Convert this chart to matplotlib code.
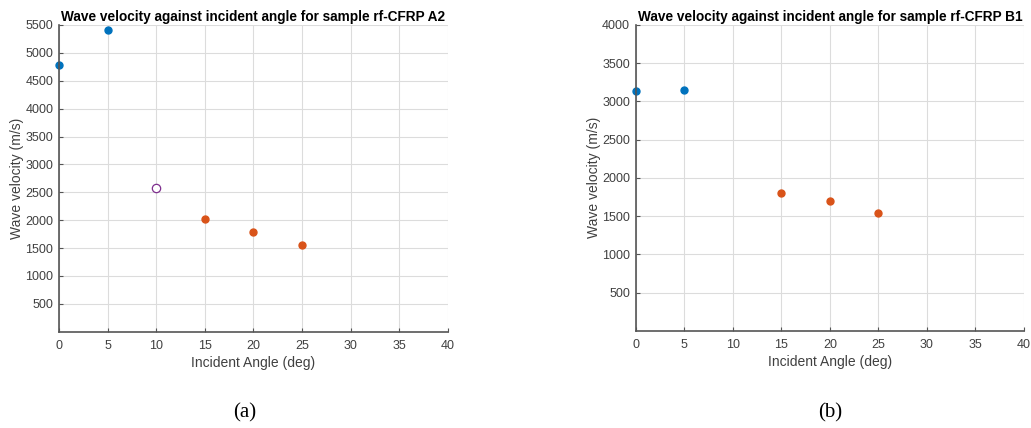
import matplotlib
matplotlib.use('Agg')
import matplotlib.pyplot as plt

plt.rcParams['font.family'] = ['Liberation Sans', 'DejaVu Sans']

# sample rf-CFRP A2
a2_angle_blue = [0, 5]
a2_vel_blue = [4790, 5410]
a2_angle_open = [10]
a2_vel_open = [2580]
a2_angle_red = [15, 20, 25]
a2_vel_red = [2015, 1790, 1562]

# sample rf-CFRP B1
b1_angle_blue = [0, 5]
b1_vel_blue = [3140, 3152]
b1_angle_red = [15, 20, 25]
b1_vel_red = [1804, 1700, 1534]

blue = '#0072BD'
red = '#D95319'
purple = '#7E2F8E'
grey = '#404040'

fig = plt.figure(figsize=(10.31, 4.28), dpi=100)
ax1 = fig.add_axes([0.0572, 0.225, 0.3773, 0.7166])
ax2 = fig.add_axes([0.6166, 0.227, 0.3766, 0.7150])


def style(ax, ymax, title):
    ax.set_xlim(0, 40)
    ax.set_ylim(0, ymax)
    ax.set_xticks(range(0, 41, 5))
    ax.set_yticks(range(500, ymax + 1, 500))
    ax.grid(True, color='#dcdcdc', linewidth=0.8)
    ax.set_axisbelow(True)
    for s in ['top', 'right']:
        ax.spines[s].set_visible(False)
    for s in ['left', 'bottom']:
        ax.spines[s].set_color('#555555')
        ax.spines[s].set_linewidth(1.2)
    ax.tick_params(colors='#555555', labelcolor=grey, labelsize=9,
                   direction='in', length=3)
    ax.tick_params(axis='x', pad=6)
    ax.tick_params(axis='y', pad=4)
    ax.set_xlabel('Incident Angle (deg)', fontsize=10, color=grey, labelpad=3)
    ax.set_ylabel('Wave velocity (m/s)', fontsize=10, color=grey, labelpad=1)
    ax.set_title(title, fontsize=9.8, fontweight='bold', pad=3)


style(ax1, 5500, 'Wave velocity against incident angle for sample rf-CFRP A2')
ax1.plot(a2_angle_blue, a2_vel_blue, 'o', color=blue, markersize=5, clip_on=False)
ax1.plot(a2_angle_open, a2_vel_open, 'o', markerfacecolor='white',
         markeredgecolor=purple, markeredgewidth=0.9, markersize=6)
ax1.plot(a2_angle_red, a2_vel_red, 'o', color=red, markersize=5)

style(ax2, 4000, 'Wave velocity against incident angle for sample rf-CFRP B1')
ax2.plot(b1_angle_blue, b1_vel_blue, 'o', color=blue, markersize=5, clip_on=False)
ax2.plot(b1_angle_red, b1_vel_red, 'o', color=red, markersize=5)

fig.text(0.2376, 0.025, '(a)', family=['Liberation Serif', 'DejaVu Serif'],
         fontsize=15, ha='center')
fig.text(0.805, 0.025, '(b)', family=['Liberation Serif', 'DejaVu Serif'],
         fontsize=15, ha='center')

fig.savefig('out.png', dpi=100)
